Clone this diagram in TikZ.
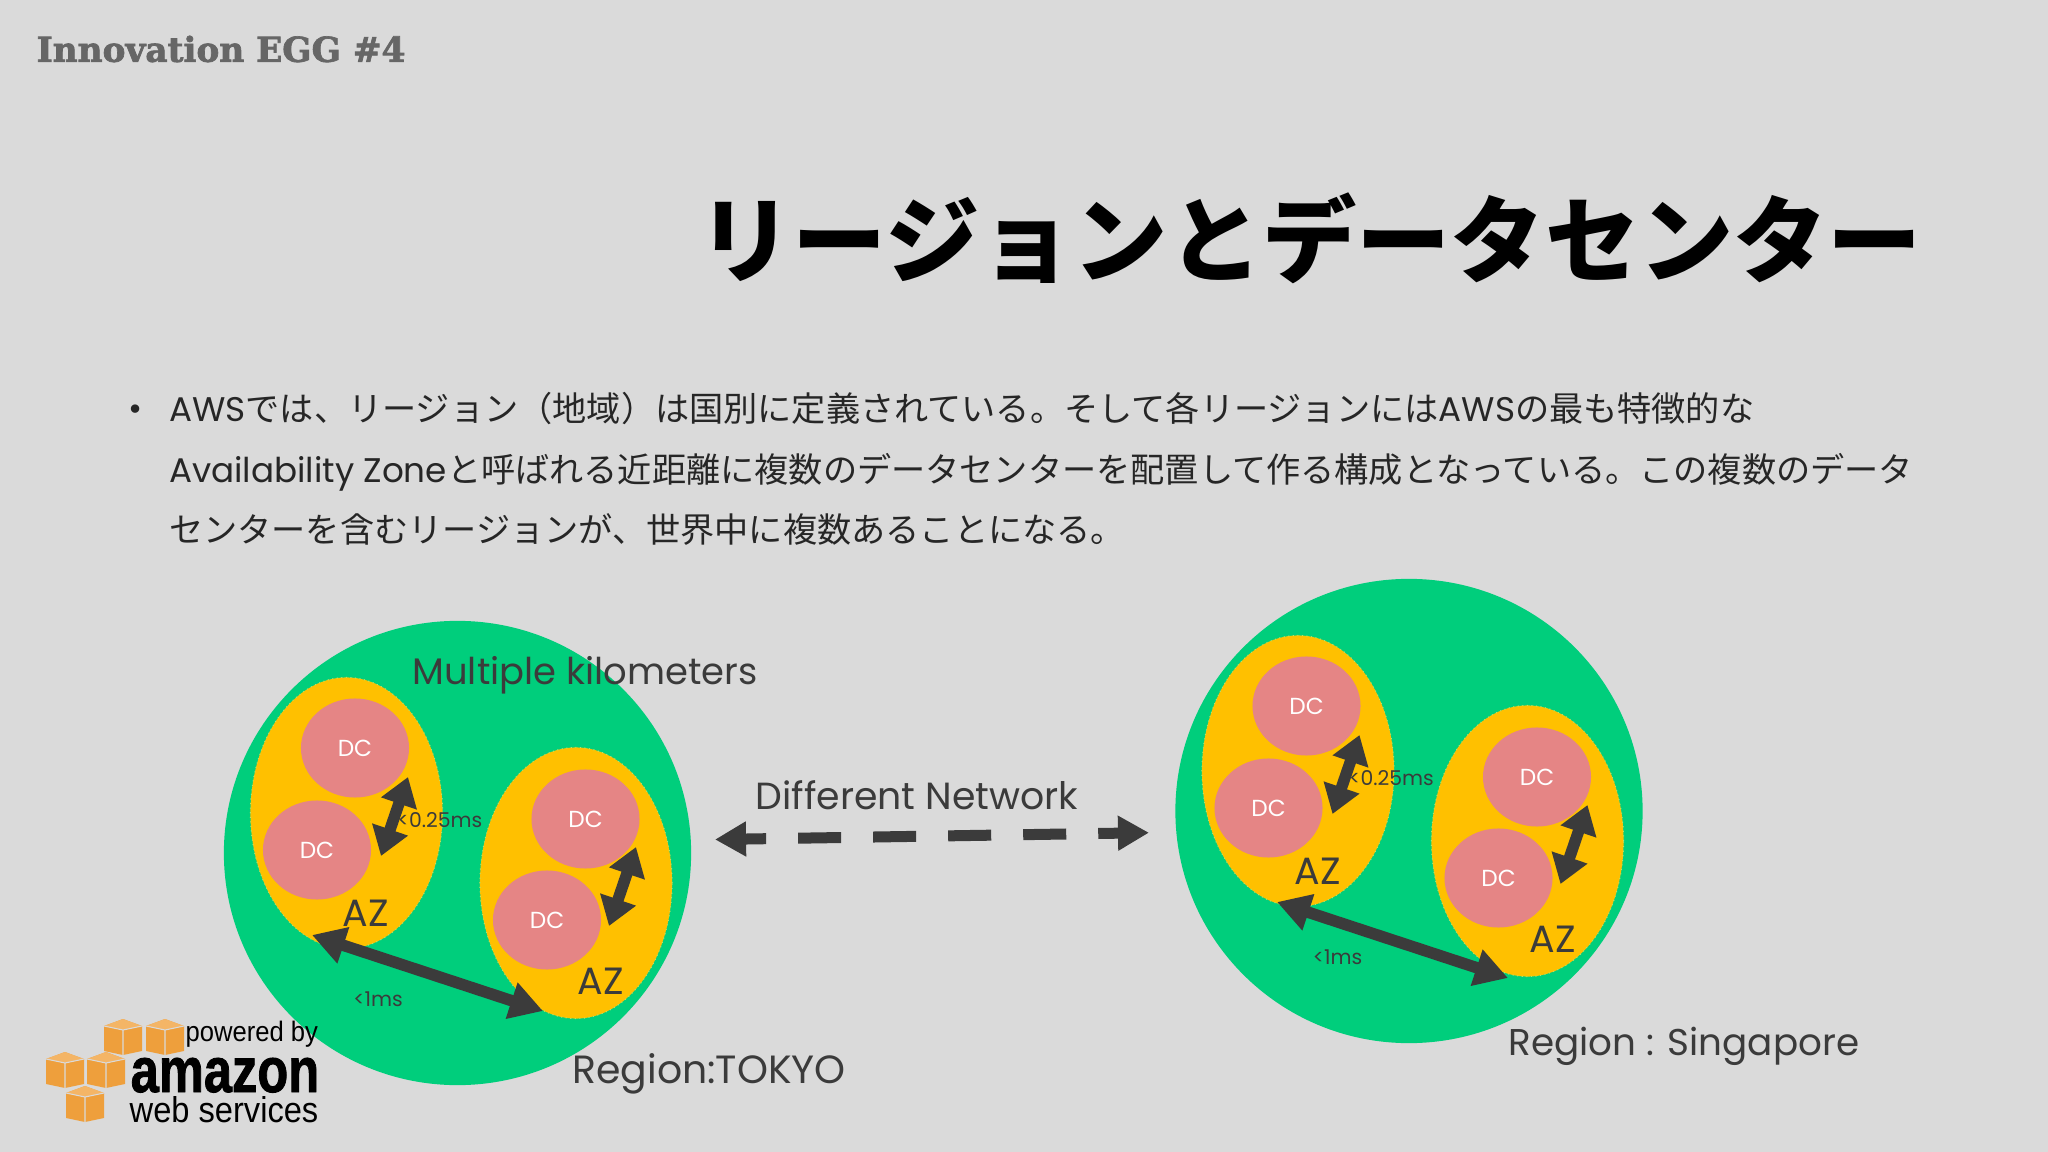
\documentclass[tikz,border=0pt]{standalone}
\usepackage{fontspec}
\setmainfont{Poppins}
\newfontfamily\jp{Noto Sans CJK JP}
\newfontfamily\eggfont[BoldFeatures={FakeBold=2}]{DejaVu Serif}
\newfontfamily\logofont[BoldFeatures={FakeBold=1.5}]{Liberation Sans}
\usetikzlibrary{arrows.meta,shapes.geometric}

\definecolor{bgcol}{HTML}{DADADA}
\definecolor{regioncol}{HTML}{00CE7C}
\definecolor{azcol}{HTML}{FFC000}
\definecolor{dccol}{HTML}{E58585}
\definecolor{darkcol}{HTML}{3B3B3B}
\definecolor{cubecol}{HTML}{EE9F3C}
\definecolor{cubetop}{HTML}{F4B566}
\definecolor{azedge}{HTML}{B8E06A}

\tikzset{
	region/.style = {ellipse,fill=regioncol,minimum width=4.67cm,minimum height=4.64cm,inner sep=0},
	azone/.style = {ellipse,fill=azcol,draw=azedge,densely dotted,line width=0.3pt,minimum width=1.92cm,minimum height=2.71cm,inner sep=0},
	dcnode/.style = {ellipse,fill=dccol,text=white,font=\fontsize{6.6}{8}\selectfont,minimum width=1.08cm,minimum height=0.99cm,inner sep=0},
	azlabel/.style = {text=darkcol,font=\fontsize{10.8}{12}\selectfont,inner sep=0},
	msec/.style = {text=darkcol,font=\fontsize{5.8}{7}\selectfont,inner sep=0},
	caption/.style = {text=darkcol,inner sep=0},
	bodyline/.style = {anchor=base west,inner sep=0,text=black!85,font=\fontsize{9.72}{12}\selectfont},
	shortarrow/.style = {{Triangle[length=0.28cm,width=0.36cm]}-{Triangle[length=0.28cm,width=0.36cm]},line width=0.115cm,draw=darkcol},
	longarrow/.style = {{Triangle[length=0.33cm,width=0.36cm]}-{Triangle[length=0.33cm,width=0.36cm]},line width=0.115cm,draw=darkcol},
}

\begin{document}
\begin{tikzpicture}[x=0.01cm,y=-0.01cm]
	\fill[bgcol] (0,0) rectangle (2048,1152);

	\node[anchor=west,inner sep=0,text=black!60,font=\eggfont\bfseries\fontsize{9.75}{12}\selectfont] (egg) at (36,49) {Innovation EGG \#4};
	\node[anchor=west,inner sep=0,font=\jp\bfseries\fontsize{26.8}{30}\selectfont] (title) at (698,238) {リージョンとデータセンター};

	\node[bodyline,anchor=base] (bullet) at (136,421) {•};
	\node[bodyline] (line1) at (168.5,421.5) {AWS{\jp では、リージョン（地域）は国別に定義されている。そして各リージョンには}AWS{\jp の最も特徴的な}};
	\node[bodyline] (line2) at (168.5,483) {Availability Zone{\jp と呼ばれる近距離に複数のデータセンターを配置して作る構成となっている。この複数のデータ}};
	\node[bodyline] (line3) at (168.5,543) {\jp センターを含むリージョンが、世界中に複数あることになる。};

	% both regions are the same drawing, moved
	\foreach \rname/\rx/\ry/\gx/\gy in {tokyo/0/0/0/0,sing/951.5/-42/13.5/9}{
		\begin{scope}[shift={(\rx,\ry)}]
			\node[region] (\rname) at (457.5,853) {};
			\node[azone] (\rname az1) at (346.5,813) {};
			\node[azone] (\rname az2) at (576,883) {};
			\node[dcnode] (\rname dc1) at (355,748) {DC};
			\node[dcnode] (\rname dc2) at (317,850) {DC};
			\node[dcnode] (\rname dc3) at (585.5,819) {DC};
			\node[dcnode] (\rname dc4) at (547,920) {DC};
			\node[azlabel] (\rname azl1) at (366,913) {AZ};
			\node[azlabel] (\rname azl2) at (601,981) {AZ};

			\coordinate (\rname a) at (408,777);
			\coordinate (\rname b) at (381,856);
			\coordinate (\rname c) at (636,847);
			\coordinate (\rname d) at (609,926);
			\coordinate (\rname e) at (312+\gx,935+\gy);
			\coordinate (\rname f) at (543+\gx,1011+\gy);
			\draw[shortarrow] (\rname a) -- (\rname b);
			\draw[shortarrow] (\rname c) -- (\rname d);
			\draw[longarrow] (\rname e) -- (\rname f);

			\node[msec] (\rname near) at (440,820) {<0.25ms};
			\node[msec] (\rname far) at (378+.6*\gx,999) {<1ms};
		\end{scope}
	}

	\node[caption,font=\fontsize{10.5}{12}\selectfont] (multi) at (585,675) {Multiple kilometers};
	\node[caption,font=\fontsize{10.75}{12}\selectfont] (diff) at (917,795.5) {Different Network};
	\node[caption,font=\fontsize{11.2}{12}\selectfont] (rtokyo) at (709,1074) {Region:TOKYO};
	\node[caption,font=\fontsize{10.6}{12}\selectfont] (rsing) at (1684,1046) {Region : Singapore};

	\coordinate (netl) at (715,839.5);
	\coordinate (netr) at (1149,832.7);
	\draw[{Triangle[length=0.31cm,width=0.33cm]}-{Triangle[length=0.31cm,width=0.33cm]},draw=darkcol,line width=0.11cm,dash pattern=on 0.43cm off 0.32cm,dash phase=0.21cm] (netl) -- (netr);

	% logo
	\foreach \cx/\cy in {123/1037,165/1037,65/1070,106/1070,85/1104}{
		\fill[cubecol] (\cx-19,\cy-11) -- (\cx,\cy-18) -- (\cx+19,\cy-11) -- (\cx+19,\cy+14) -- (\cx,\cy+18) -- (\cx-19,\cy+14) -- cycle;
		\fill[cubetop] (\cx-19,\cy-11) -- (\cx,\cy-18) -- (\cx+19,\cy-11) -- (\cx,\cy-7) -- cycle;
		\draw[bgcol,line width=0.3pt] (\cx-19,\cy-11) -- (\cx,\cy-7) -- (\cx+19,\cy-11) (\cx,\cy-7) -- (\cx,\cy+18);
	}
	\node[anchor=base west,inner sep=0,font=\logofont\fontsize{8}{9}\selectfont] (powered) at (185,1041) {\scalebox{0.91}[1]{powered by}};
	\node[anchor=base west,inner sep=0,font=\logofont\bfseries\fontsize{18}{15}\selectfont] (amazon) at (130,1092) {\scalebox{0.8}[1]{amazon}};
	\node[anchor=base west,inner sep=0,font=\logofont\fontsize{10.2}{11}\selectfont] (web) at (129,1122) {\scalebox{0.91}[1]{web services}};
\end{tikzpicture}
\end{document}
